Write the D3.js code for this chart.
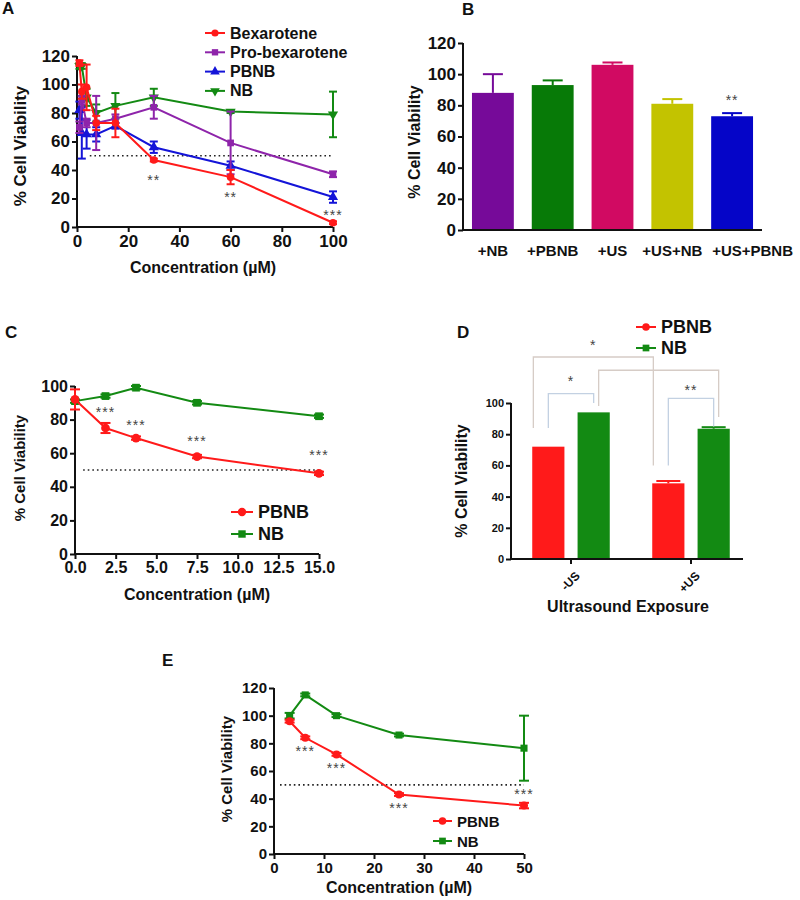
<!DOCTYPE html>
<html>
<head>
<meta charset="utf-8">
<title>cell viability</title>
<script src="https://cdn.jsdelivr.net/npm/d3@7"></script>
<style>
	body { margin: 0; background: #fff; }
	text { font-family: Arial, "Liberation Sans", sans-serif; font-weight: 700; fill: #111; }
	.axis path, .axis line { stroke: #111; stroke-width: 2px; }
	.star { font-weight: 400; fill: #444; letter-spacing: 1px; }
</style>
</head>
<body>
<svg id="fig" width="800" height="900"></svg>
<script>

// Panel A: dose response, 4 formulations
var concA = [0.94, 1.875, 3.75, 7.5, 15, 30, 60, 100];
var bexA = [115, 95, 98, 73, 73, 47, 35, 3];
var bexAErr = [2, 5, 16, 5, 10, 1, 5, 1];
var proA = [70, 89, 73, 73, 76, 84, 59, 37];
var proAErr = [4, 3, 3, 19, 3, 8, 22, 2];
var pbnbA = [82, 66, 65, 65, 71, 56, 43, 21];
var pbnbAErr = [6, 18, 10, 5, 2, 4, 3, 4];
var nbA = [113, 113, 91, 80, 85, 91, 81, 79];
var nbAErr = [2, 2, 6, 6, 9, 6, 1, 16];
var starsA = [{ x: 30, y: 35, t: "**" }, { x: 60, y: 23, t: "**" }, { x: 100, y: 10, t: "***" }];

// Panel B: ultrasound bars
var groupsB = ["+NB", "+PBNB", "+US", "+US+NB", "+US+PBNB"];
var valsB = [88, 93, 106, 81, 73];
var errB = [12, 3, 1.5, 3, 2];
var colorsB = ["#760a99", "#077a07", "#d10a62", "#c3c300", "#0505c8"];
var starsB = [{ g: "+US+PBNB", y: 85, t: "**" }];

// Panel C
var concC = [0, 1.875, 3.75, 7.5, 15];
var pbnbC = [92, 75, 69, 58, 48];
var pbnbCErr = [6, 3, 1, 1, 1];
var nbC = [91, 94, 99, 90, 82];
var nbCErr = [1, 1, 1, 1, 1];
var starsC = [{ x: 1.875, y: 86, t: "***" }, { x: 3.75, y: 78.5, t: "***" }, { x: 7.5, y: 69, t: "***" }, { x: 15, y: 60.5, t: "***" }];

// Panel D
var groupsD = ["-US", "+US"];
var seriesD = ["PBNB", "NB"];
var pbnbD = [72, 48.5];
var pbnbDErr = [0, 1.5];
var nbD = [94, 83.5];
var nbDErr = [0, 1];
// brackets: [group, series] -> [group, series], top value, left/right foot values
var bracketsD = [
	{ a: ["-US", "PBNB"], b: ["+US", "PBNB"], top: 129.5, la: 84, lb: 60, dx: -15, kind: "big", t: "*", ty: 139 },
	{ a: ["-US", "NB"], b: ["+US", "NB"], top: 121, la: 98, lb: 91, dx: 5, kind: "big", t: "", ty: 0 },
	{ a: ["-US", "PBNB"], b: ["-US", "NB"], top: 106, la: 84, lb: 100, dx: 0, kind: "small", t: "*", ty: 116 },
	{ a: ["+US", "PBNB"], b: ["+US", "NB"], top: 103, la: 60, lb: 85, dx: 0, kind: "small", t: "**", ty: 110 }
];

// Panel E
var concE = [3.125, 6.25, 12.5, 25, 50];
var pbnbE = [96, 84, 72, 43, 35];
var pbnbEErr = [1, 1, 1, 1, 2];
var nbE = [100, 115, 100, 86, 76.5];
var nbEErr = [2, 1, 1, 1, 23.5];
var starsE = [{ x: 6.25, y: 76.5, t: "***" }, { x: 12.5, y: 64, t: "***" }, { x: 25, y: 35, t: "***" }, { x: 50, y: 45.5, t: "***" }];

var RED = "#ff1a1a", GREEN = "#138a13", PURPLE = "#8e24aa", BLUE = "#1414d8";

var svg = d3.select("#fig");

//
// helpers
//

function drawAxes(g, x, y, o) {
	var xa = d3.axisBottom(x).tickSize(5).tickPadding(3);
	if (o.xticks) xa.tickValues(o.xticks);
	if (o.xfmt) xa.tickFormat(o.xfmt);
	var ya = d3.axisLeft(y).tickValues(o.yticks).tickSize(5).tickPadding(2);
	var gx = g.append("g").attr("class", "axis")
		.attr("transform", "translate(0," + y(0) + ")")
		.call(xa);
	var gy = g.append("g").attr("class", "axis")
		.attr("transform", "translate(" + x.range()[0] + ",0)")
		.call(ya);
	gx.selectAll("text").attr("font-size", o.xfs || o.fs).attr("font-family", null);
	gy.selectAll("text").attr("font-size", o.fs).attr("font-family", null);
	gx.select(".domain").attr("d", "M" + x.range()[0] + ",0H" + (o.xend || x.range()[1]));
	gy.select(".domain").attr("d", "M0," + y.range()[0] + "V" + y.range()[1]);
	return gx;
}

function yLabel(g, cx, cy, fs) {
	g.append("text")
		.attr("transform", "translate(" + cx + "," + cy + ") rotate(-90)")
		.attr("text-anchor", "middle")
		.attr("dominant-baseline", "middle")
		.attr("font-size", fs)
		.text("% Cell Viability");
}

function xLabel(g, cx, cy, fs, txt) {
	g.append("text")
		.attr("x", cx).attr("y", cy)
		.attr("text-anchor", "middle")
		.attr("font-size", fs)
		.text(txt || "Concentration (\u00b5M)");
}

function panelLabel(t, x, y) {
	svg.append("text").attr("x", x).attr("y", y).attr("font-size", 17).text(t);
}

function dotted(g, x, y, from, to) {
	g.append("line")
		.attr("x1", x(from)).attr("x2", x(to))
		.attr("y1", y(50)).attr("y2", y(50))
		.attr("stroke", "#222").attr("stroke-width", 1.6)
		.attr("stroke-dasharray", "1.6,3");
}

function stars(g, list, px, y, fs) {
	g.selectAll(null).data(list).enter().append("text")
		.attr("class", "star")
		.attr("x", px)
		.attr("y", function(d) { return y(d.y) + fs * 0.55; })
		.attr("text-anchor", "middle")
		.attr("font-size", fs)
		.text(function(d) { return d.t; });
}

function series(g, x, y, s) {
	var pts = s.x.map(function(c, i) { return { x: c, v: s.v[i], e: s.e[i] }; });
	var line = d3.line().x(function(d) { return x(d.x); }).y(function(d) { return y(d.v); });
	g.append("path").datum(pts)
		.attr("d", line).attr("fill", "none")
		.attr("stroke", s.color).attr("stroke-width", 2);
	var eb = g.append("g").attr("stroke", s.color).attr("stroke-width", 2);
	pts.forEach(function(d) {
		if (!d.e) return;
		var cx = x(d.x), hw = s.cap;
		eb.append("line").attr("x1", cx).attr("x2", cx).attr("y1", y(d.v - d.e)).attr("y2", y(d.v + d.e));
		eb.append("line").attr("x1", cx - hw).attr("x2", cx + hw).attr("y1", y(d.v + d.e)).attr("y2", y(d.v + d.e));
		eb.append("line").attr("x1", cx - hw).attr("x2", cx + hw).attr("y1", y(d.v - d.e)).attr("y2", y(d.v - d.e));
	});
	g.selectAll(null).data(pts).enter().append("path")
		.attr("d", d3.symbol().type(s.sym).size(s.size))
		.attr("transform", function(d) { return "translate(" + x(d.x) + "," + y(d.v) + ")" + (s.flip ? " rotate(180)" : ""); })
		.attr("fill", s.color);
}

function legend(g, items, x0, y0, dy, fs, len, size) {
	items.forEach(function(it, i) {
		var yy = y0 + i * dy;
		g.append("line").attr("x1", x0).attr("x2", x0 + len).attr("y1", yy).attr("y2", yy)
			.attr("stroke", it.color).attr("stroke-width", 2);
		g.append("path")
			.attr("d", d3.symbol().type(it.sym).size(size))
			.attr("transform", "translate(" + (x0 + len / 2) + "," + yy + ")" + (it.flip ? " rotate(180)" : ""))
			.attr("fill", it.color);
		g.append("text").attr("x", x0 + len + 5).attr("y", yy)
			.attr("dominant-baseline", "central")
			.attr("font-size", fs).text(it.name);
	});
}

//
// Panel A
//

var gA = svg.append("g");
var xA = d3.scaleLinear().domain([0, 100]).range([77, 333]);
var yA = d3.scaleLinear().domain([0, 120]).range([227, 56]);
drawAxes(gA, xA, yA, { xticks: d3.range(0, 101, 20), yticks: d3.range(0, 121, 20), fs: 17 });
dotted(gA, xA, yA, 5, 100);
var seriesA = [
	{ name: "Bexarotene", v: bexA, e: bexAErr, color: RED, sym: d3.symbolCircle },
	{ name: "Pro-bexarotene", v: proA, e: proAErr, color: PURPLE, sym: d3.symbolSquare },
	{ name: "PBNB", v: pbnbA, e: pbnbAErr, color: BLUE, sym: d3.symbolTriangle },
	{ name: "NB", v: nbA, e: nbAErr, color: GREEN, sym: d3.symbolTriangle, flip: true }
];
seriesA.slice().reverse().forEach(function(s) {
	series(gA, xA, yA, { x: concA, v: s.v, e: s.e, color: s.color, sym: s.sym, flip: s.flip, size: 45, cap: 4 });
});
stars(gA, starsA, function(d) { return xA(d.x); }, yA, 14);
legend(gA, seriesA, 205, 33, 19.3, 16, 20, 40);
yLabel(gA, 22, 146, 17);
xLabel(gA, 203, 273, 16);
panelLabel("A", 2, 14);

//
// Panel B
//

var gB = svg.append("g");
var xB = d3.scaleBand().domain(groupsB).range([463, 762]).paddingInner(0.3).paddingOuter(0.15);
var yB = d3.scaleLinear().domain([0, 120]).range([230, 43]);
gB.selectAll(".bar").data(groupsB).enter().append("rect")
	.attr("x", function(d) { return xB(d); })
	.attr("y", function(d, i) { return yB(valsB[i]); })
	.attr("width", xB.bandwidth())
	.attr("height", function(d, i) { return yB(0) - yB(valsB[i]); })
	.attr("fill", function(d, i) { return colorsB[i]; });
groupsB.forEach(function(gname, i) {
	var cx = xB(gname) + xB.bandwidth() / 2, top = yB(valsB[i] + errB[i]);
	gB.append("line").attr("x1", cx).attr("x2", cx).attr("y1", yB(valsB[i])).attr("y2", top)
		.attr("stroke", colorsB[i]).attr("stroke-width", 2);
	gB.append("line").attr("x1", cx - 10).attr("x2", cx + 10).attr("y1", top).attr("y2", top)
		.attr("stroke", colorsB[i]).attr("stroke-width", 2);
});
var gxB = drawAxes(gB, xB, yB, { yticks: d3.range(0, 121, 20), fs: 17, xfs: 15 });
gxB.selectAll(".tick line").remove();
gxB.selectAll("text").attr("dy", "1.2em");
// last label runs to the right edge, starting at its bar
gxB.selectAll(".tick text").filter(function(d) { return d === "+US+PBNB"; })
	.attr("text-anchor", "start")
	.attr("x", -xB.bandwidth() / 2 + 1);
stars(gB, starsB, function(d) { return xB(d.g) + xB.bandwidth() / 2; }, yB, 14);
yLabel(gB, 416, 142, 16);
panelLabel("B", 462, 15);

//
// Panel C
//

var gC = svg.append("g");
var xC = d3.scaleLinear().domain([0, 15]).range([75, 319]);
var yC = d3.scaleLinear().domain([0, 100]).range([554, 386]);
drawAxes(gC, xC, yC, { xticks: d3.range(0, 15.1, 2.5), xfmt: d3.format(".1f"), yticks: d3.range(0, 101, 20), fs: 16 });
dotted(gC, xC, yC, 0.5, 15);
series(gC, xC, yC, { x: concC, v: nbC, e: nbCErr, color: GREEN, sym: d3.symbolSquare, size: 60, cap: 5 });
series(gC, xC, yC, { x: concC, v: pbnbC, e: pbnbCErr, color: RED, sym: d3.symbolCircle, size: 60, cap: 5 });
stars(gC, starsC, function(d) { return xC(d.x); }, yC, 14);
legend(gC, [{ name: "PBNB", color: RED, sym: d3.symbolCircle }, { name: "NB", color: GREEN, sym: d3.symbolSquare }],
	231, 512, 22, 18, 22, 55);
yLabel(gC, 21, 468, 15);
xLabel(gC, 197, 600, 16);
panelLabel("C", 5, 338);

//
// Panel D
//

var gD = svg.append("g");
var xD = d3.scaleBand().domain(groupsD).range([511, 751]).paddingInner(0.354).paddingOuter(0.177);
var xDs = d3.scaleBand().domain(seriesD).range([0, xD.bandwidth()]).paddingInner(0.29);
var yD = d3.scaleLinear().domain([0, 100]).range([559, 403]);
var valsD = { PBNB: pbnbD, NB: nbD }, errD = { PBNB: pbnbDErr, NB: nbDErr }, colD = { PBNB: RED, NB: GREEN };
function cxD(gname, s) { return xD(gname) + xDs(s) + xDs.bandwidth() / 2; }
groupsD.forEach(function(gname, gi) {
	seriesD.forEach(function(s) {
		var v = valsD[s][gi], e = errD[s][gi];
		gD.append("rect")
			.attr("x", xD(gname) + xDs(s)).attr("width", xDs.bandwidth())
			.attr("y", yD(v)).attr("height", yD(0) - yD(v))
			.attr("fill", colD[s]);
		if (e) {
			var c = cxD(gname, s);
			gD.append("line").attr("x1", c - 12).attr("x2", c + 12).attr("y1", yD(v + e)).attr("y2", yD(v + e))
				.attr("stroke", colD[s]).attr("stroke-width", 2);
			gD.append("line").attr("x1", c).attr("x2", c).attr("y1", yD(v)).attr("y2", yD(v + e))
				.attr("stroke", colD[s]).attr("stroke-width", 2);
		}
	});
});
var gxD = drawAxes(gD, xD, yD, { yticks: d3.range(0, 101, 20), fs: 11, xfs: 12, xend: 743 });
gxD.selectAll("text")
	.attr("text-anchor", "end")
	.attr("dy", null)
	.attr("transform", "translate(4,12) rotate(-45)");
bracketsD.forEach(function(b) {
	var x1 = cxD(b.a[0], b.a[1]) + b.dx, x2 = cxD(b.b[0], b.b[1]) + b.dx;
	gD.append("path")
		.attr("d", "M" + x1 + "," + yD(b.la) + "V" + yD(b.top) + "H" + x2 + "V" + yD(b.lb))
		.attr("fill", "none")
		.attr("stroke", b.kind === "big" ? "#d6ccc6" : "#c3d1e2")
		.attr("stroke-width", 1.3);
	if (b.t) {
		gD.append("text").attr("class", "star")
			.attr("x", (x1 + x2) / 2).attr("y", yD(b.ty) + 8)
			.attr("text-anchor", "middle").attr("font-size", 14).text(b.t);
	}
});
legend(gD, [{ name: "PBNB", color: RED, sym: d3.symbolCircle }, { name: "NB", color: GREEN, sym: d3.symbolSquare }],
	636, 327, 21, 18, 20, 45);
yLabel(gD, 463, 481, 16);
xLabel(gD, 628, 612, 16, "Ultrasound Exposure");
panelLabel("D", 457, 338);

//
// Panel E
//

var gE = svg.append("g");
var xE = d3.scaleLinear().domain([0, 50]).range([274, 524]);
var yE = d3.scaleLinear().domain([0, 120]).range([854, 688]);
drawAxes(gE, xE, yE, { xticks: d3.range(0, 51, 10), yticks: d3.range(0, 121, 20), fs: 15 });
dotted(gE, xE, yE, 1.2, 50);
series(gE, xE, yE, { x: concE, v: nbE, e: nbEErr, color: GREEN, sym: d3.symbolSquare, size: 50, cap: 5 });
series(gE, xE, yE, { x: concE, v: pbnbE, e: pbnbEErr, color: RED, sym: d3.symbolCircle, size: 50, cap: 5 });
stars(gE, starsE, function(d) { return xE(d.x); }, yE, 14);
legend(gE, [{ name: "PBNB", color: RED, sym: d3.symbolCircle }, { name: "NB", color: GREEN, sym: d3.symbolSquare }],
	433, 821, 20, 15, 19, 45);
yLabel(gE, 228, 769, 15);
xLabel(gE, 399, 893, 16);
panelLabel("E", 162, 666);

</script>
</body>
</html>
